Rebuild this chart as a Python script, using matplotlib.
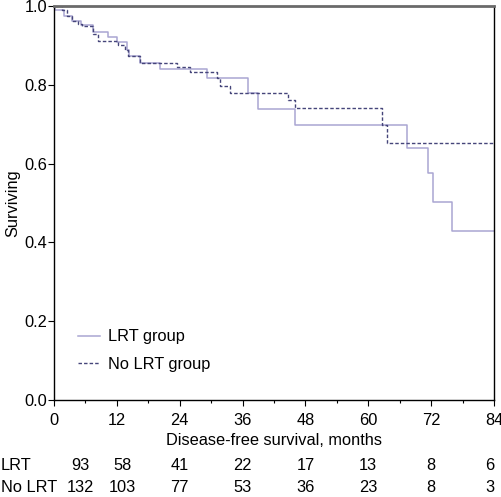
import matplotlib.pyplot as plt
from matplotlib.ticker import MultipleLocator

plt.rcParams['font.family'] = ['Liberation Sans', 'DejaVu Sans']

# Kaplan-Meier steps (months, surviving fraction)
lrt_t = [0, 0.2, 2.0, 3.5, 5.2, 7.4, 10.3, 12.0, 13.9, 14.3, 16.4, 20.2,
         29.2, 37.0, 38.9, 46.0, 67.4, 71.4, 72.4, 76.0, 84]
lrt_s = [1.0, 0.99, 0.975, 0.962, 0.952, 0.935, 0.92, 0.908, 0.888, 0.872,
         0.855, 0.839, 0.817, 0.778, 0.739, 0.698, 0.639, 0.575, 0.502,
         0.429, 0.429]

nolrt_t = [0, 1.5, 2.5, 3.5, 4.5, 5.3, 7.4, 8.4, 12.2, 13.6, 14.1, 16.4,
           23.5, 26.0, 31.1, 31.7, 33.6, 44.7, 46.0, 62.6, 63.6, 84]
nolrt_s = [1.0, 0.99, 0.975, 0.962, 0.955, 0.948, 0.93, 0.912, 0.90, 0.888,
           0.872, 0.855, 0.844, 0.833, 0.817, 0.797, 0.778, 0.761, 0.740,
           0.698, 0.652, 0.652]

risk_x = [5, 13, 24, 36, 48, 60, 72, 83.2]
risk_lrt = [93, 58, 41, 22, 17, 13, 8, 6]
risk_nolrt = [132, 103, 77, 53, 36, 23, 8, 3]

fs = 11.8

fig = plt.figure(figsize=(5.02, 4.97), dpi=100)
ax = fig.add_axes([0.1076, 0.195, 0.8764, 0.793])

ax.step(lrt_t, lrt_s, where='post', color='#aaa6d2', lw=1.1, label='LRT group')
ax.step(nolrt_t, nolrt_s, where='post', color='#45457a', lw=1.0,
        linestyle=(0, (2.5, 1.5)), label='No LRT group')

ax.set_xlim(0, 84)
ax.set_ylim(0, 1.0)
ax.set_xticks(range(0, 85, 12))
ax.xaxis.set_minor_locator(MultipleLocator(6))
ax.set_yticks([0, 0.2, 0.4, 0.6, 0.8, 1.0])
ax.set_yticklabels(['0.0', '0.2', '0.4', '0.6', '0.8', '1.0'])
ax.tick_params(axis='both', which='major', direction='out', length=4,
               width=0.8, labelsize=fs, pad=1)
ax.tick_params(axis='x', which='major', pad=5)
ax.tick_params(axis='x', which='minor', direction='out', length=2, width=0.8)

for side in ['left', 'bottom', 'right']:
    ax.spines[side].set_color('black')
    ax.spines[side].set_linewidth(1.0)
ax.spines['top'].set_color('#6a6a6a')
ax.spines['top'].set_linewidth(2.0)

ax.set_xlabel('Disease-free survival, months', fontsize=fs, labelpad=4)
ax.set_ylabel('Surviving', fontsize=fs, labelpad=3)

ax.legend(loc='lower left', bbox_to_anchor=(0.055, 0.072), frameon=False,
          fontsize=fs, handlelength=1.35, handletextpad=0.45,
          labelspacing=0.75, borderpad=0, borderaxespad=0)

# numbers at risk
ax.text(-10.2, -0.165, 'LRT', fontsize=fs, ha='left', va='center',
        transform=ax.get_xaxis_transform())
ax.text(-10.2, -0.223, 'No LRT', fontsize=fs, ha='left', va='center',
        transform=ax.get_xaxis_transform())
for x, a, b in zip(risk_x, risk_lrt, risk_nolrt):
    ax.text(x, -0.165, str(a), fontsize=fs, ha='center', va='center',
            transform=ax.get_xaxis_transform())
    ax.text(x, -0.223, str(b), fontsize=fs, ha='center', va='center',
            transform=ax.get_xaxis_transform())

fig.savefig('out.png', dpi=100)
